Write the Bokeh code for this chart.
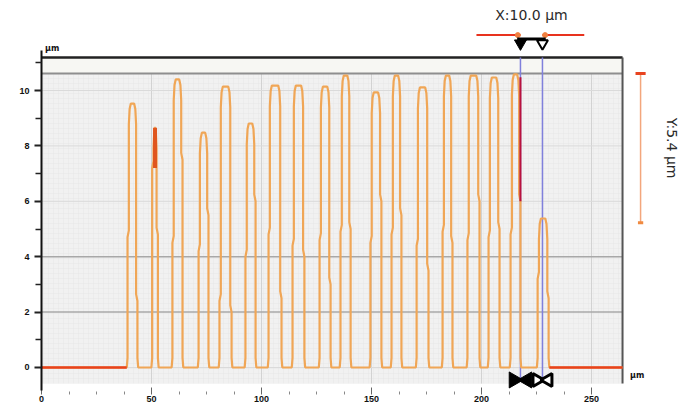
import math
from bokeh.plotting import figure
from bokeh.models import Range1d, FixedTicker
from bokeh.embed import file_html
from bokeh.resources import INLINE
from bokeh.core.properties import value

# ---- profile data (µm) ----
pulse_rise = [39.1, 50.3, 59.5, 71.4, 80.9, 92.7, 103.2, 114.1, 126.4, 135.9,
              149.5, 159.1, 170.5, 182.3, 193.6, 203.2, 213.2, 225.5]
pulse_fall = [43.6, 52.9, 64.1, 75.9, 86.4, 97.3, 109.1, 119.5, 131.4, 140.5,
              154.5, 163.6, 175.9, 186.8, 199.1, 208.2, 217.7, 230.5]
pulse_top = [9.53, 8.66, 10.40, 8.48, 10.14, 8.81, 10.18, 10.18, 10.14, 10.54,
             9.93, 10.54, 10.11, 10.54, 10.54, 10.47, 10.58, 5.38]
rise_step = [4.7, 7.2, 4.5, 4.2, 2.4, 4.0, 4.8, 4.4, 4.6, 4.9,
             4.5, 4.8, 4.4, 4.9, 4.6, 4.7, 4.8, 3.2]
fall_step = [2.4, 4.8, 7.5, 5.5, 2.0, 6.0, 2.5, 4.0, 3.0, 5.0,
             6.0, 5.5, 3.5, 4.5, 6.0, 5.0, 6.0, 2.5]
profile_start = 0.0
profile_end = 264.1

x_ticks = [0, 50, 100, 150, 200, 250]
x_minor = [12.5, 25, 37.5, 62.5, 75, 87.5, 112.5, 125, 137.5, 162.5, 175, 187.5, 212.5, 225, 237.5]
y_ticks = [0, 2, 4, 6, 8, 10]
y_minor = [1, 3, 5, 7, 9, 11]

cursor_x = [217.7, 227.7]
cursor_y = [10.61, 5.23]
x_text = "X:10.0 µm"
y_text = "Y:5.4 µm"

# plot-area box
plot_x_max = 264.1
plot_y_min = -0.58
plot_y_max = 11.19
band_y = 10.61

# build the profile polyline from the pulse table (rounded tops and valley floors)
px, py = [profile_start], [0.0]
for r, f, t, sr, sf in zip(pulse_rise, pulse_fall, pulse_top, rise_step, fall_step):
    w = f - r
    c = min(0.9, w * 0.3)
    px += [r - 0.35, r, r, r + 0.6, r + 0.6, r + 0.6 + c * 0.4, r + 0.6 + c, f - 0.6 - c, f - 0.6 - c * 0.4,
           f - 0.6, f - 0.6, f, f, f + 0.35]
    py += [0, 0.35, sr, sr + 0.25, t - 0.75, t - 0.2, t, t, t - 0.2, t - 0.75, sf + 0.25, sf, 0.35, 0]
px.append(profile_end)
py.append(0.0)

p = figure(width=681, height=406,
           x_range=Range1d(0, 290.9), y_range=Range1d(-0.975, 13.25),
           min_border_left=41, min_border_right=0, min_border_top=0, min_border_bottom=12,
           toolbar_location=None, output_backend="svg")
p.outline_line_color = None
p.xgrid.visible = False
p.ygrid.visible = False
p.background_fill_color = "white"
p.border_fill_color = "white"

# background of the measurement area
p.quad(left=0, right=plot_x_max, bottom=plot_y_min, top=plot_y_max,
       fill_color="#f1f1f1", line_color=None,
       hatch_pattern="+", hatch_color="#e6e6e6", hatch_scale=5, hatch_weight=0.5)
p.quad(left=0, right=plot_x_max, bottom=band_y, top=plot_y_max,
       fill_color="#f7f7f3", line_color=None)

# grid lines
p.segment(x0=x_ticks[1:], y0=plot_y_min, x1=x_ticks[1:], y1=band_y,
          line_color="#d2d2d2", line_width=1)
p.segment(x0=0, y0=[2, 4], x1=plot_x_max, y1=[2, 4], line_color="#a8a8a8", line_width=1.5)
p.segment(x0=0, y0=[0, 6, 8, 10], x1=plot_x_max, y1=[0, 6, 8, 10], line_color="#dadada", line_width=1)

# frame lines
p.segment(x0=0, y0=band_y, x1=plot_x_max, y1=band_y, line_color="#8e8e8e", line_width=2)
p.segment(x0=0, y0=plot_y_max, x1=plot_x_max, y1=plot_y_max, line_color="#222222", line_width=2.5)
p.segment(x0=plot_x_max, y0=plot_y_min, x1=plot_x_max, y1=plot_y_max, line_color="#555555", line_width=2)

# cursors
p.segment(x0=cursor_x, y0=-0.5, x1=cursor_x, y1=plot_y_max, line_color="#8080dc", line_width=1.5)

# profile
p.line(px, py, line_color="#f0a656", line_width=2.2)
# red highlighted parts
p.segment(x0=[profile_start, pulse_fall[-1] + 0.35], y0=0, x1=[pulse_rise[0] - 0.35, profile_end], y1=0,
          line_color="#e8421c", line_width=2.5)
p.segment(x0=(pulse_rise[1] + pulse_fall[1]) / 2, y0=7.2,
          x1=(pulse_rise[1] + pulse_fall[1]) / 2, y1=pulse_top[1],
          line_color="#e0561e", line_width=4)
p.segment(x0=cursor_x[0], y0=6.0, x1=cursor_x[0], y1=pulse_top[16] - 0.1,
          line_color="#b8123e", line_width=2)

# top measurement marker
meas_y = 12.0
p.segment(x0=[cursor_x[0] - 20, cursor_x[1]], y0=meas_y, x1=[cursor_x[0], cursor_x[1] + 19], y1=meas_y,
          line_color="#e8321e", line_width=2)
p.scatter(x=[cursor_x[0] - 1.2, cursor_x[1] + 1.2], y=meas_y, size=5, color="#f08040")
p.segment(x0=cursor_x[0] - 1.5, y0=11.86, x1=cursor_x[1] + 1.5, y1=11.86, line_color="black", line_width=3)
p.scatter(x=[cursor_x[0]], y=11.7, marker="inverted_triangle", size=12, fill_color="black", line_color="black")
p.scatter(x=[cursor_x[1]], y=11.7, marker="inverted_triangle", size=11, fill_color="white",
          line_color="black", line_width=2)
p.text(x=[(cursor_x[0] + cursor_x[1]) / 2], y=[12.72], text=[x_text], text_align="center",
       text_baseline="middle", text_font=value("DejaVu Sans"), text_font_size="14px", text_color="#2a2a2a")

# bottom bow-tie markers
bow_y = -0.45
p.scatter(x=[cursor_x[0] - 3.0], y=bow_y, marker="triangle", angle=-math.pi / 2, size=16,
          fill_color="black", line_color="black")
p.scatter(x=[cursor_x[0] + 3.0], y=bow_y, marker="triangle", angle=math.pi / 2, size=16,
          fill_color="black", line_color="black")
p.scatter(x=[cursor_x[1] - 2.6], y=bow_y, marker="triangle", angle=-math.pi / 2, size=13,
          fill_color="white", line_color="black", line_width=3)
p.scatter(x=[cursor_x[1] + 2.6], y=bow_y, marker="triangle", angle=math.pi / 2, size=13,
          fill_color="white", line_color="black", line_width=3)

# right-side Y measurement bar
bar_x = 272.3
p.segment(x0=bar_x, y0=cursor_y[1], x1=bar_x, y1=cursor_y[0], line_color="#f3a67c", line_width=1.5)
p.segment(x0=bar_x - 2.3, y0=cursor_y[0], x1=bar_x + 2.3, y1=cursor_y[0], line_color="#e8431f", line_width=3)
p.segment(x0=bar_x - 1.2, y0=cursor_y[1], x1=bar_x + 1.2, y1=cursor_y[1], line_color="#f08a40", line_width=3)
p.text(x=[286.8], y=[7.92], text=[y_text], angle=-math.pi / 2, text_align="center",
       text_baseline="middle", text_font=value("DejaVu Sans"), text_font_size="14px", text_color="#2a2a2a")

# unit labels
p.text(x=[1.6, 267.5], y=[11.5, -0.3], text=["µm", "µm"], text_align="left", text_baseline="middle",
       text_font=value("DejaVu Sans"), text_font_size="8px", text_font_style="bold", text_color="#111")

# axes
xa = p.xaxis[0]
xa.ticker = FixedTicker(ticks=x_ticks, minor_ticks=x_minor)
xa.bounds = (0, plot_x_max)
xa.axis_line_color = None
xa.major_tick_in = 7
xa.major_tick_out = 0
xa.minor_tick_in = 3
xa.minor_tick_out = 0
xa.major_tick_line_color = "#666"
xa.minor_tick_line_color = "#888"
xa.major_label_standoff = 1
xa.major_label_text_font = "Liberation Sans"
xa.major_label_text_font_size = "9px"
xa.major_label_text_font_style = "bold"
xa.major_label_text_color = "#111"

ya = p.yaxis[0]
ya.ticker = FixedTicker(ticks=y_ticks, minor_ticks=y_minor)
ya.bounds = (-0.83, 11.44)
ya.axis_line_color = "#111"
ya.axis_line_width = 2
ya.major_tick_in = 0
ya.major_tick_out = 7
ya.minor_tick_in = 0
ya.minor_tick_out = 6
ya.major_tick_line_color = "#222"
ya.major_tick_line_width = 2
ya.minor_tick_line_color = "#222"
ya.minor_tick_line_width = 1.5
ya.major_label_standoff = 5
ya.major_label_text_font = "Liberation Sans"
ya.major_label_text_font_size = "9px"
ya.major_label_text_font_style = "bold"
ya.major_label_text_color = "#111"

open("out.html", "w").write(file_html(p, INLINE))
